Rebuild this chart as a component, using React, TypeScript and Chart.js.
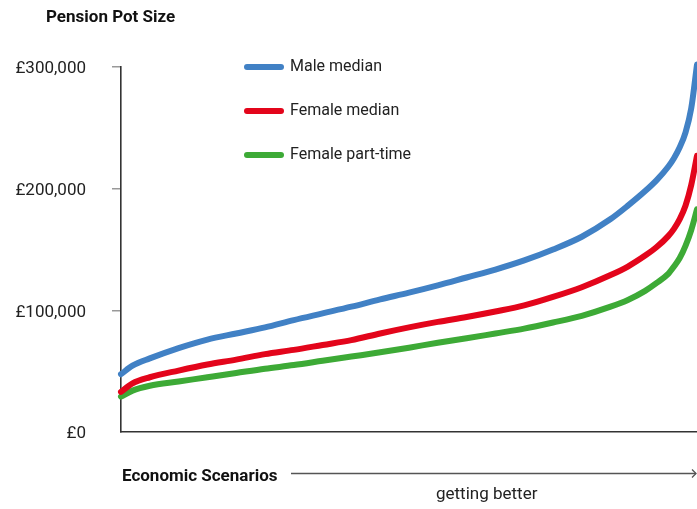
import React, { useEffect, useRef } from "react";
import { Chart, registerables } from "chart.js";

Chart.register(...registerables);

// Scenario position (percentile of economic scenarios, 0 = worst, 100 = best)
const scenarioPct = [0, 2, 5, 10, 15, 20, 25, 30, 35, 40, 45, 50, 55, 60, 65, 70, 75, 80, 85, 88, 91, 93, 95, 96, 97, 98, 99, 100];

// Pension pot sizes in £ thousands
const maleMedian = [47.5, 54.5, 60.5, 69, 76, 81, 86, 92, 97.5, 103, 109, 114.5, 120.5, 127, 133.5, 141, 150, 160.5, 175, 186, 198, 207, 218, 225, 234, 246, 266, 302];
const femaleMedian = [33, 40, 45, 50.5, 55.5, 59.5, 64, 67.5, 71.5, 75.5, 81, 86, 90.5, 94.5, 99, 104, 111, 119, 129, 136, 145, 152, 161, 167, 175, 186, 203, 227];
const femalePartTime = [29, 34, 38, 41.5, 45, 48.5, 52, 55, 58.5, 62, 65.5, 69.3, 73.3, 77, 81, 85, 90, 95.5, 103, 108.5, 116, 122.5, 130, 136, 143, 153, 166, 183];

const seriesLabels = ["Male median", "Female median", "Female part-time"];
const seriesColors = ["#4181C5", "#E3051B", "#3DAA36"];
const yTicks = [0, 100000, 200000, 300000];

const chartTitle = "Pension Pot Size";
const xAxisTitle = "Economic Scenarios";
const xAxisNote = "getting better";

const FONT = "Roboto, 'Noto Sans', sans-serif";

const decorPlugin = {
  id: "decor",
  afterDraw(chart: any) {
    const ctx = chart.ctx;
    const area = chart.chartArea;
    ctx.save();
    // Title
    ctx.fillStyle = "#111";
    ctx.font = `bold 17px ${FONT}`;
    ctx.textAlign = "left";
    ctx.textBaseline = "alphabetic";
    ctx.fillText(chartTitle, 46, 22);

    // Legend
    chart.data.datasets.forEach((ds: any, i: number) => {
      const y = 67 + i * 44;
      ctx.strokeStyle = ds.borderColor;
      ctx.lineWidth = 6;
      ctx.lineCap = "round";
      ctx.beginPath();
      ctx.moveTo(247, y);
      ctx.lineTo(281, y);
      ctx.stroke();
      ctx.fillStyle = "#222";
      ctx.font = `16px ${FONT}`;
      ctx.textBaseline = "middle";
      ctx.fillText(ds.label, 290, y);
    });

    // X axis caption with arrow
    ctx.textBaseline = "alphabetic";
    ctx.fillStyle = "#111";
    ctx.font = `bold 17px ${FONT}`;
    ctx.fillText(xAxisTitle, area.left + 1, 481);
    ctx.strokeStyle = "#555";
    ctx.lineWidth = 1.3;
    ctx.lineCap = "butt";
    ctx.beginPath();
    ctx.moveTo(291, 473.5);
    ctx.lineTo(area.right - 1, 473.5);
    ctx.stroke();
    ctx.beginPath();
    ctx.moveTo(area.right - 5, 469.5);
    ctx.lineTo(area.right - 1, 473.5);
    ctx.lineTo(area.right - 5, 477.5);
    ctx.stroke();
    ctx.fillStyle = "#222";
    ctx.font = `17px ${FONT}`;
    ctx.fillText(xAxisNote, 436, 499);
    ctx.restore();
  },
};

export default function App() {
  const canvasRef = useRef<HTMLCanvasElement | null>(null);

  useEffect(() => {
    const canvas = canvasRef.current;
    if (!canvas) return;
    const series = [maleMedian, femaleMedian, femalePartTime];
    const chart = new Chart(canvas, {
      type: "line",
      data: {
        datasets: series.map((vals, i) => ({
          label: seriesLabels[i],
          data: vals.map((v, j) => ({ x: scenarioPct[j], y: v * 1000 })),
          borderColor: seriesColors[i],
          backgroundColor: seriesColors[i],
          borderWidth: 6,
          borderCapStyle: "round",
          borderJoinStyle: "round",
          pointRadius: 0,
          cubicInterpolationMode: "monotone",
          clip: false,
          fill: false,
        })),
      },
      options: {
        animation: false,
        responsive: false,
        maintainAspectRatio: false,
        layout: { padding: { top: 67, bottom: 77, left: 0, right: 0 } },
        plugins: {
          legend: { display: false },
          tooltip: { enabled: false },
          title: { display: false },
        },
        scales: {
          x: {
            type: "linear",
            min: 0,
            max: 100,
            ticks: { display: false },
            grid: { display: false, drawTicks: false },
            border: { display: true, color: "#333", width: 1.6 },
            afterFit: (s: any) => {
              s.height = 0;
            },
          },
          y: {
            min: 0,
            max: 300000,
            afterBuildTicks: (s: any) => {
              s.ticks = yTicks.map((v) => ({ value: v }));
            },
            ticks: {
              padding: 26,
              labelOffset: 2,
              color: "#222",
              font: { family: FONT, size: 17 },
              callback: (v: any) => "£" + Number(v).toLocaleString("en-GB"),
            },
            grid: {
              drawOnChartArea: false,
              drawTicks: true,
              tickLength: 9,
              lineWidth: 1.5,
              color: (c: any) => (c.tick && c.tick.value === 0 ? "rgba(0,0,0,0)" : "#999"),
            },
            border: { display: true, color: "#333", width: 1.6 },
            afterFit: (s: any) => {
              s.width = 121;
            },
          },
        },
      },
      plugins: [decorPlugin],
    } as any);
    return () => chart.destroy();
  }, []);

  return (
    <div style={{ position: "absolute", left: 0, top: 0, width: 697, height: 509, background: "#fff" }}>
      <canvas ref={canvasRef} width={697} height={509} style={{ display: "block", width: 697, height: 509 }} />
    </div>
  );
}
